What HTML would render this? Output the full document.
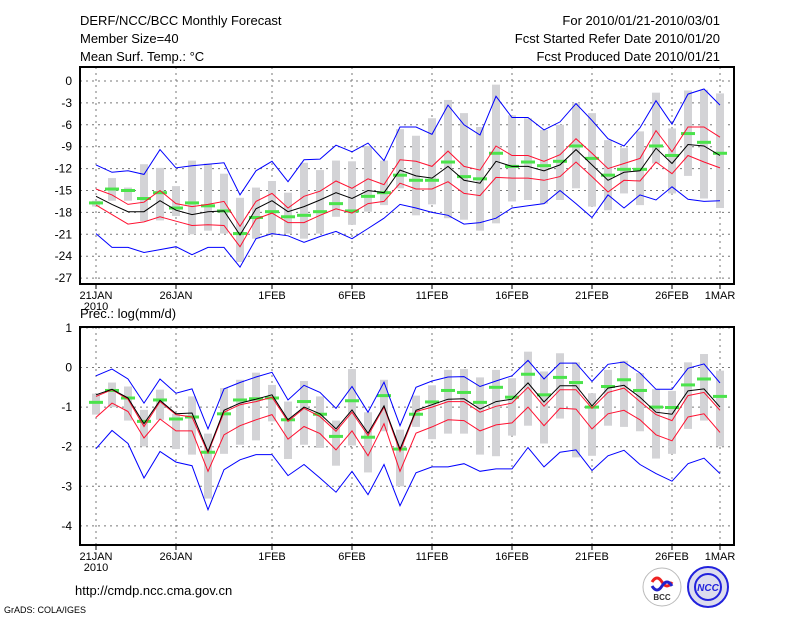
<!DOCTYPE html>
<html><head><meta charset="utf-8"><style>
body{margin:0;background:#fff;}
svg{display:block;font-family:"Liberation Sans",sans-serif;}
</style></head><body>
<svg id="chart" width="800" height="618" viewBox="0 0 800 618">
<text x="80" y="25" font-size="13">DERF/NCC/BCC Monthly Forecast</text>
<text x="80" y="43" font-size="13">Member Size=40</text>
<text x="80" y="61" font-size="13">Mean Surf. Temp.: °C</text>
<text x="720" y="25" font-size="13" text-anchor="end">For 2010/01/21-2010/03/01</text>
<text x="720" y="43" font-size="13" text-anchor="end">Fcst Started Refer Date 2010/01/20</text>
<text x="720" y="61" font-size="13" text-anchor="end">Fcst Produced Date 2010/01/21</text>
<text x="80" y="318" font-size="13">Prec.: log(mm/d)</text>
<text x="75" y="595" font-size="13">http://cmdp.ncc.cma.gov.cn</text>
<text x="4" y="613" font-size="9">GrADS: COLA/IGES</text>
<g><circle cx="662" cy="587" r="19" fill="#fff" stroke="#bbb"/><path d="M652 582 q5 -8 10 0 q5 8 10 0" stroke="#e22" stroke-width="3" fill="none"/><path d="M652 586 q5 8 10 0 q5 -8 10 0" stroke="#22c" stroke-width="3" fill="none"/><text x="662" y="600" font-size="8" font-weight="bold" text-anchor="middle" fill="#333">BCC</text></g>
<g><circle cx="708" cy="587" r="20" fill="#dde" stroke="#22d" stroke-width="2"/><circle cx="708" cy="587" r="13" fill="none" stroke="#22d" stroke-width="2"/><text x="708" y="591" font-size="10" font-weight="bold" font-style="italic" text-anchor="middle" fill="#22d">NCC</text></g>
<g id="top"></g><g id="bot"></g>
</svg>
<script>
// ---- top panel data (temperature, °C) ----
const days=["21JAN","26JAN","1FEB","6FEB","11FEB","16FEB","21FEB","26FEB","1MAR"];
const dayIdx=[0,5,11,16,21,26,31,36,39];
const tBlack=[-15.8,-16.9,-17.9,-17.9,-16.4,-17.7,-18.3,-17.9,-17.8,-21.1,-17.5,-16.4,-17.9,-17.2,-16.3,-15.3,-16.1,-15.0,-15.3,-12.2,-13.0,-13.3,-11.7,-13.6,-14.0,-11.0,-11.7,-11.7,-12.3,-11.5,-9.4,-11.5,-13.6,-12.5,-12.3,-9.2,-11.3,-8.7,-8.9,-10.2];
const tRedHi=[-14.8,-15.6,-16.9,-16.6,-15.0,-16.8,-17.2,-16.9,-16.5,-19.9,-16.5,-15.4,-17.4,-15.8,-15.1,-13.7,-14.7,-13.4,-14.2,-10.8,-11.0,-11.7,-9.6,-11.7,-12.2,-8.9,-10.2,-10.2,-11.0,-10.1,-7.9,-9.9,-12.0,-11.3,-10.6,-6.8,-9.7,-6.3,-6.3,-7.7];
const tRedLo=[-17.0,-18.3,-19.6,-19.3,-18.6,-19.2,-19.8,-19.7,-19.8,-22.7,-18.9,-18.1,-19.4,-19.4,-18.4,-17.5,-18.1,-16.8,-16.5,-14.0,-14.8,-14.8,-13.8,-15.4,-15.7,-13.2,-13.3,-13.3,-13.6,-13.1,-11.1,-13.1,-15.2,-13.6,-13.7,-11.1,-12.7,-10.2,-11.1,-11.9];
const tBlueHi=[-11.5,-12.5,-12.3,-12.8,-9.4,-11.9,-11.6,-11.4,-11.2,-15.6,-12.3,-11.0,-13.8,-10.8,-10.7,-8.8,-9.7,-8.5,-10.9,-6.3,-6.3,-7.3,-3.3,-6.0,-7.4,-2.1,-5.0,-5.0,-6.7,-5.6,-3.1,-5.4,-7.9,-8.9,-6.4,-2.7,-5.9,-1.8,-1.1,-3.3];
const tBlueLo=[-20.9,-22.8,-22.8,-23.5,-23.1,-22.7,-23.8,-22.8,-22.8,-25.5,-21.6,-20.9,-21.2,-22.1,-21.3,-20.6,-21.6,-20.2,-18.8,-16.9,-17.4,-18.0,-18.4,-19.6,-19.4,-18.8,-17.4,-17.1,-16.8,-15.0,-16.8,-18.7,-15.6,-17.4,-15.6,-16.3,-14.5,-16.2,-16.5,-16.4];
const tObs=[-16.7,-14.8,-15.0,-16.1,-15.3,-17.4,-16.7,-17.1,-17.8,-20.9,-18.7,-17.9,-18.6,-18.4,-17.9,-16.8,-17.8,-15.8,-15.3,-12.9,-13.6,-13.6,-11.1,-13.1,-13.4,-9.9,-11.7,-11.1,-11.6,-11.0,-8.9,-10.6,-12.9,-12.1,-12.1,-8.9,-10.2,-7.2,-8.4,-9.9];
const tBarHi=[-16.4,-13.3,-14.6,-11.4,-11.9,-14.4,-10.9,-11.3,-12.7,-16.0,-14.6,-13.7,-15.3,-11.2,-12.2,-10.9,-11.0,-8.9,-10.9,-6.6,-7.5,-5.1,-2.6,-4.4,-6.3,-0.5,-4.7,-5.1,-6.7,-6.0,-3.0,-4.4,-8.1,-9.2,-6.9,-1.6,-6.5,-1.3,-1.2,-1.7];
const tBarLo=[-17.2,-16.4,-16.4,-19.2,-19.1,-18.5,-21.0,-20.5,-20.9,-24.8,-21.6,-21.1,-20.9,-21.6,-20.9,-18.6,-19.7,-17.9,-17.0,-14.7,-18.4,-16.9,-18.8,-19.0,-20.5,-19.5,-16.5,-16.3,-16.8,-16.3,-14.7,-17.2,-17.7,-15.4,-17.0,-11.3,-15.4,-13.0,-16.1,-17.4];
const tTicks=[0,-3,-6,-9,-12,-15,-18,-21,-24,-27];
// ---- bottom panel data (log precipitation) ----
const pBlack=[-0.69,-0.55,-0.77,-1.42,-0.83,-1.17,-1.15,-2.12,-1.08,-0.90,-0.80,-0.69,-1.32,-1.00,-1.17,-1.55,-1.07,-1.66,-0.97,-2.06,-1.08,-0.94,-0.80,-0.79,-1.05,-0.86,-0.80,-0.39,-0.87,-0.46,-0.46,-0.97,-0.52,-0.45,-0.75,-1.13,-1.18,-0.59,-0.54,-1.00];
const pRedHi=[-0.73,-0.56,-0.80,-1.49,-0.86,-1.19,-1.25,-2.16,-1.13,-0.94,-0.86,-0.75,-1.36,-1.03,-1.24,-1.61,-1.13,-1.72,-1.00,-2.12,-1.11,-1.00,-0.86,-0.86,-1.13,-0.98,-0.90,-0.50,-0.98,-0.56,-0.56,-1.03,-0.63,-0.52,-0.86,-1.19,-1.34,-0.71,-0.63,-1.08];
const pRedLo=[-1.26,-0.90,-1.11,-1.78,-1.30,-1.60,-1.60,-2.62,-1.70,-1.47,-1.32,-1.19,-1.81,-1.49,-1.67,-2.08,-1.60,-2.23,-1.42,-2.62,-1.66,-1.50,-1.32,-1.34,-1.60,-1.45,-1.40,-1.00,-1.47,-1.03,-1.05,-1.55,-1.17,-1.08,-1.32,-1.70,-1.85,-1.25,-1.17,-1.64];
const pBlueHi=[-0.21,-0.04,-0.29,-0.90,-0.29,-0.65,-0.54,-1.55,-0.54,-0.38,-0.24,-0.12,-0.82,-0.45,-0.63,-1.03,-0.48,-1.13,-0.37,-1.47,-0.50,-0.34,-0.24,-0.23,-0.48,-0.34,-0.21,0.18,-0.29,0.11,0.11,-0.35,0.08,0.14,-0.14,-0.55,-0.55,-0.02,0.09,-0.39];
const pBlueLo=[-2.05,-1.59,-1.92,-2.79,-2.12,-2.39,-2.48,-3.59,-2.58,-2.33,-2.20,-2.20,-2.73,-2.45,-2.79,-3.15,-2.62,-3.21,-2.45,-3.49,-2.66,-2.51,-2.51,-2.43,-2.62,-2.56,-2.56,-2.02,-2.51,-2.14,-2.08,-2.60,-2.23,-2.09,-2.45,-2.68,-2.87,-2.43,-2.29,-2.68];
const pObs=[-0.88,-0.58,-0.77,-1.36,-0.82,-1.30,-1.25,-2.14,-1.17,-0.82,-0.79,-0.77,-1.32,-0.86,-1.18,-1.74,-0.84,-1.76,-0.71,-2.06,-1.18,-0.87,-0.58,-0.63,-0.88,-0.50,-0.75,-0.17,-0.69,-0.25,-0.38,-1.00,-0.48,-0.31,-0.58,-1.00,-1.01,-0.44,-0.29,-0.73];
const pBarHi=[-0.66,-0.38,-0.48,-1.07,-0.56,-1.17,-0.73,-1.67,-0.52,-0.31,-0.13,-0.44,-0.86,-0.34,-0.73,-1.34,-0.04,-1.13,-0.31,-1.57,-0.71,-0.45,-0.06,-0.04,-0.25,-0.06,-0.27,0.40,-0.10,0.36,0.13,-0.65,-0.06,0.17,-0.14,-0.55,-0.59,0.13,0.34,-0.08];
const pBarLo=[-1.19,-1.00,-1.34,-1.99,-1.32,-2.06,-2.20,-3.31,-2.18,-1.95,-1.84,-1.36,-2.31,-1.95,-2.03,-2.48,-1.97,-2.65,-1.61,-3.00,-1.50,-1.81,-1.67,-1.67,-2.20,-2.24,-1.72,-1.47,-1.92,-1.29,-2.27,-2.23,-1.47,-1.50,-1.61,-2.30,-2.18,-1.55,-1.34,-1.99];
const pTicks=[1,0,-1,-2,-3,-4];

const NS="http://www.w3.org/2000/svg";
function mk(tag,attrs,parent){const e=document.createElementNS(NS,tag);for(const k in attrs)e.setAttribute(k,attrs[k]);parent.appendChild(e);return e;}
const xOf=i=>96+16*i;
function panel(g,top,bottom,yOf,ticks,bHi,bLo,obs,bLoL,rLo,blk,rHi,bHiL,suffix){
  const L=80,R=734;
  ticks.forEach(t=>{
    const y=yOf(t);
    const ln=mk('line',{x1:L,x2:R,y1:y,y2:y,stroke:'#777','stroke-dasharray':'2,4','stroke-width':1},g);
    
    
    const tx=mk('text',{x:72,y:y+4,'font-size':12,'text-anchor':'end'},g);tx.textContent=String(t);
    
    
  });
  dayIdx.forEach((d,k)=>{
    const x=xOf(d);
    const ln=mk('line',{x1:x,x2:x,y1:top,y2:bottom,stroke:'#777','stroke-dasharray':'2,4','stroke-width':1},g);
    
    
    mk('line',{x1:x,x2:x,y1:bottom,y2:bottom+5,stroke:'#000'},g);
    const tx=mk('text',{x:x,y:bottom+15,'font-size':11,'text-anchor':'middle'},g);tx.textContent=days[k];
    
    
  });
  const yr=mk('text',{x:96,y:bottom+26,'font-size':11,'text-anchor':'middle'},g);yr.textContent='2010';
  
  
  bHi.forEach((v,i)=>{
    const y1=yOf(v),y2=yOf(bLo[i]);
    const r=mk('rect',{x:xOf(i)-4,y:y1,width:8,height:Math.max(1,y2-y1),fill:'#d3d3d6'},g);
    
    
  });
  obs.forEach((v,i)=>{
    const r=mk('rect',{x:xOf(i)-7,y:yOf(v)-1.5,width:14,height:3,fill:'#4be34b'},g);
    
    
  });
  [[bLoL,'#0000ff','min-line'],[rLo,'#ff1030','lower-line'],[rHi,'#ff1030','upper-line'],[bHiL,'#0000ff','max-line'],[blk,'#000','mean-line']].forEach(([arr,c,n])=>{
    const p=mk('polyline',{points:arr.map((v,i)=>xOf(i)+','+yOf(v).toFixed(1)).join(' '),fill:'none',stroke:c,'stroke-width':1},g);
    
    
  });
  const fr=mk('rect',{x:L,y:top,width:R-L,height:bottom-top,fill:'none',stroke:'#000','stroke-width':2},g);
  
  
}
const gt=document.getElementById('top');


panel(gt,67,284,v=>81-v*7.3,tTicks,tBarHi,tBarLo,tObs,tBlueLo,tRedLo,tBlack,tRedHi,tBlueHi,'temp');
const gb=document.getElementById('bot');


panel(gb,327,545,v=>367.5-v*39.6,pTicks,pBarHi,pBarLo,pObs,pBlueLo,pRedLo,pBlack,pRedHi,pBlueHi,'prec');
</script>
</body></html>
